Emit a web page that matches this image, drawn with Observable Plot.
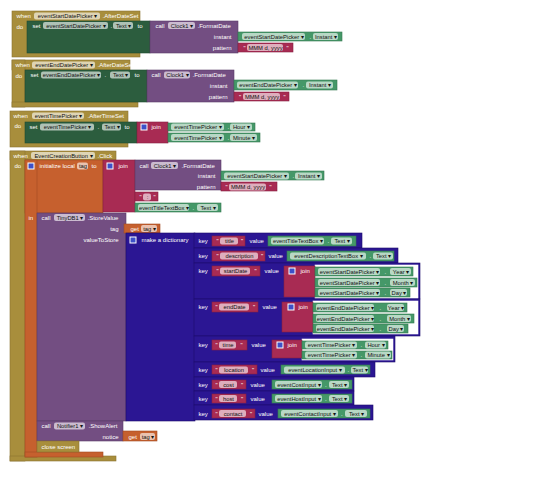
<!DOCTYPE html>
<html><head><meta charset="utf-8">
<script src="https://cdn.jsdelivr.net/npm/d3@7"></script>
<script src="https://cdn.jsdelivr.net/npm/@observablehq/plot@0.6"></script>
<style>body{margin:0;background:#fff}</style>
</head><body><div id="chart"></div>
<script>
// block rectangles: [kind, x1, y1, x2, y2]
const eventBlocks = [
  ["gold",12,11,140,57],["set",27,21,150,53],["call",150,21,238,53],["get",238,32,342,41],["text",238,43,293,52],
  ["gold",12,60,130,70],["gold",12,60,25,107],["gold",12,102,138,107],["set",25,70,147,102],["call",147,70,234,102],["get",234,80,337,90],["text",234,92,289,101],
  ["gold",10,111,128,147],["set",25,122,137,143],["text",137,122,168,143],["get",168,123,255,131],["get",168,133,260,142],
  ["gold",10,151,116,160],["gold",10,151,25,461],["gold",10,456,116,461],
  ["var",25,160,103,213],["var",25,160,37,457],["var",25,452,103,457],
  ["text",103,160,135,212],["call",135,160,221,190],["get",221,171,324,180],["text",221,182,277,191],["text",135,192,158,201],["get",135,203,221,212],
  ["call",37,213,126,421],["var",124,224,160,233],["dict",126,233,195,421],
  ["call",37,421,123,441],["var",123,431,157,441],["gold",37,441,79,452]
];
const pairBlocks = [
  ["dict",194,233,362,248],["dict",194,248,398,263],["dict",194,263,420,299],["dict",194,299,420,336],
  ["dict",194,336,395,362],["dict",194,362,375,377],["dict",194,377,354,391],["dict",194,391,354,405],["dict",194,405,373,420],
  ["white",315,265,418,298],["white",313,301,418,334],["white",302,339,393,360],
  ["text",212,236,245,246],["get",268,236,356,246],
  ["text",212,251,265,261],["get",287,251,394,261],
  ["text",212,266,260,276],["text",284,266,315,297],["get",315,267,413,276],["get",315,278,417,287],["get",315,288,410,297],
  ["text",212,302,258,312],["text",282,302,313,332],["get",313,303,407,312],["get",313,314,414,323],["get",313,324,408,333],
  ["text",212,340,247,350],["text",272,340,302,358],["get",302,341,388,349],["get",302,351,392,359],
  ["text",212,365,257,374],["get",281,365,370,374],
  ["text",212,380,246,389],["get",272,380,352,389],
  ["text",212,394,246,403],["get",272,394,352,403],
  ["text",212,409,255,418],["get",278,409,370,418]
];
// editable fields: [x1, y1, x2, y2, text]
const fieldList = [
  [34,12.5,100,19.5,"eventStartDatePicker ▾"],[43,22,108,29,"eventStartDatePicker ▾"],[113,22,133,29,"Text ▾"],[168,22,195,29,"Clock1 ▾"],
  [242,33,305,40,"eventStartDatePicker ▾"],[313,33,338,40,"Instant ▾"],[247,44,283,51,"MMM d, yyyy"],
  [32,61.5,95,68.5,"eventEndDatePicker ▾"],[41,71.5,101,78.5,"eventEndDatePicker ▾"],[110,71.5,130,78.5,"Text ▾"],[164,71.5,190,78.5,"Clock1 ▾"],
  [237,81.5,298,88.5,"eventEndDatePicker ▾"],[306,81.5,333,88.5,"Instant ▾"],[243,93,280,100,"MMM d, yyyy"],
  [32,112.5,84,119,"eventTimePicker ▾"],[40,123.5,94,130.5,"eventTimePicker ▾"],[102,123.5,121,130.5,"Text ▾"],
  [171,123.5,224,130.5,"eventTimePicker ▾"],[230,123.5,252,130.5,"Hour ▾"],[171,134,224,141,"eventTimePicker ▾"],[230,134,257,141,"Minute ▾"],
  [31,152,95,159,"EventCreationButton ▾"],[77,162.5,88,169.5,"tag"],[151,162,178,169,"Clock1 ▾"],
  [224,172.5,289,179.5,"eventStartDatePicker ▾"],[295,172.5,322,179.5,"Instant ▾"],[229,183.5,266,190.5,"MMM d, yyyy"],[143,193.5,151,200.5,":"],
  [138,204,189,211,"eventTitleTextBox ▾"],[197,204,218,211,"Text ▾"],[54,214,85,221,"TinyDB1 ▾"],[141,225,157,232,"tag ▾"],
  [220,237.5,238,244.5,"title"],[271,237.5,324,244.5,"eventTitleTextBox ▾"],[331,237.5,352,244.5,"Text ▾"],
  [220,252.5,258,259.5,"description"],[290,252.5,366,259.5,"eventDescriptionTextBox ▾"],[373,252.5,393,259.5,"Text ▾"],
  [220,267.5,250,274.5,"startDate"],[318,268,380,275,"eventStartDatePicker ▾"],[390,268,411,275,"Year ▾"],
  [318,279,380,286,"eventStartDatePicker ▾"],[390,279,415,286,"Month ▾"],[318,289,380,296,"eventStartDatePicker ▾"],[390,289,407,296,"Day ▾"],
  [219,303.5,249,310.5,"endDate"],[316,304,374,311,"eventEndDatePicker ▾"],[387,304,404,311,"Year ▾"],
  [316,315,374,322,"eventEndDatePicker ▾"],[387,315,411,322,"Month ▾"],[316,325,374,332,"eventEndDatePicker ▾"],[387,325,404,332,"Day ▾"],
  [219,341.5,236,348.5,"time"],[305,341.5,357,348.5,"eventTimePicker ▾"],[365,341.5,386,348.5,"Hour ▾"],
  [305,351.5,357,358.5,"eventTimePicker ▾"],[365,351.5,391,358.5,"Minute ▾"],
  [219,366.5,248,373.5,"location"],[284,366.5,345,373.5,"eventLocationInput ▾"],[351,366.5,368,373.5,"Text ▾"],
  [219,381,237,388,"cost"],[275,381,322,388,"eventCostInput ▾"],[329,381,349,388,"Text ▾"],
  [219,395,237,402,"host"],[275,395,322,402,"eventHostInput ▾"],[329,395,349,402,"Text ▾"],
  [219,410,246,417,"contact"],[281,410,338,417,"eventContactInput ▾"],[345,410,367,417,"Text ▾"],
  [54,422.5,85,429.5,"Notifier1 ▾"],[140,433,155,440,"tag ▾"]
];
// white labels, left-anchored: [x, y, text]
const leftLabels = [
  [16,16,"when"],[102,16,".AfterDateSet"],[16,27,"do"],[32,25.5,"set"],[110,25.5,"."],[137,25.5,"to"],[155,25.5,"call"],[197,25.5,".FormatDate"],
  [309,36.5,"."],[243,47.5,"\""],[286,47.5,"\""],
  [15,65,"when"],[97,65,".AfterDateSet"],[15,76,"do"],[30,75,"set"],[104,75,"."],[134,75,"to"],[151,75,"call"],[192,75,".FormatDate"],
  [302,85,"."],[238.5,96.5,"\""],[283,96.5,"\""],
  [13,115.5,"when"],[87,115.5,".AfterTimeSet"],[14,126,"do"],[29,127,"set"],[97,127,"."],[124,127,"to"],[151,127,"join"],[227,127,"."],[227,137.5,"."],
  [13,155.5,"when"],[97,155.5,".Click"],[14,166,"do"],[39,166,"initialize local"],[91,166,"to"],[118,166,"join"],
  [139,165.5,"call"],[181,165.5,".FormatDate"],[292,176,"."],[225,187,"\""],[269,187,"\""],[139,197,"\""],[153,197,"\""],[192,207.5,"."],
  [28,217.5,"in"],[41,217.5,"call"],[87,217.5,".StoreValue"],[130,228.5,"get"],[141,239.5,"make a dictionary"],
  [198,241,"key"],[216,241,"\""],[240.5,241,"\""],[249,241,"value"],[327,241,"."],
  [198,256,"key"],[216,256,"\""],[260.5,256,"\""],[268,256,"value"],[369,256,"."],
  [198,271,"key"],[216,271,"\""],[254,271,"\""],[264,271,"value"],[300,271,"join"],[384,271.5,"."],[384,282.5,"."],[384,292.5,"."],
  [198,307,"key"],[215,307,"\""],[252.5,307,"\""],[262,307,"value"],[298,307,"join"],[379,307.5,"."],[379,318.5,"."],[379,328.5,"."],
  [198,345,"key"],[215,345,"\""],[240,345,"\""],[251,345,"value"],[287,345,"join"],[360,345,"."],[360,355,"."],
  [198,370,"key"],[215,370,"\""],[251.5,370,"\""],[260,370,"value"],[347,370,"."],
  [198,384.5,"key"],[215,384.5,"\""],[240.5,384.5,"\""],[250,384.5,"value"],[324.5,384.5,"."],
  [198,398.5,"key"],[215,398.5,"\""],[240.5,398.5,"\""],[250,398.5,"value"],[324.5,398.5,"."],
  [198,413.5,"key"],[215,413.5,"\""],[249.5,413.5,"\""],[258,413.5,"value"],[340.5,413.5,"."],
  [41,426,"call"],[88,426,".ShowAlert"],[128,436.5,"get"],[41,447,"close screen"]
];
// white labels, right-anchored: [x, y, text]
const rightLabels = [
  [231,36.5,"instant"],[231,47.5,"pattern"],[227,85.5,"instant"],[227,96.5,"pattern"],
  [215,176,"instant"],[215,187,"pattern"],[118,228.5,"tag"],[118,239.5,"valueToStore"],[118,436.5,"notice"]
];
// mutator icons: [x, y]
const gears = [[141,124],[28,163],[107,163],[130,237],[289,268],[288,304],[277,342]];

const palette = {gold:"#A88E3C", set:"#2C5D3E", get:"#459868", call:"#734E82", text:"#A82B53", var:"#C6602E", dict:"#2B1693", white:"#FFFFFF"};
const edgeCol = {gold:"#8a7430", set:"#214a30", get:"#367a52", call:"#5b3d68", text:"#861f41", var:"#a24c22", dict:"#1c0d6b", white:"#FFFFFF"};

const toRect = ([kind,x1,y1,x2,y2]) => ({kind,x1,y1,x2,y2});
const blocks = eventBlocks.map(toRect).concat(pairBlocks.map(toRect));
const fields = fieldList.map(([x1,y1,x2,y2,t]) => ({x1,y1,x2,y2,t,cx:(x1+x2)/2,cy:(y1+y2)/2}));
const toLab = ([x,y,t]) => ({x,y,t});
const icons = gears.map(([x,y]) => ({x1:x,y1:y,x2:x+6,y2:y+6}));

const chart = Plot.plot({
  width: 538, height: 500, margin: 0,
  style: {fontFamily: "'Liberation Sans', Arial, sans-serif", background: "#fff"},
  x: {domain: [0, 538], range: [0, 538], axis: null},
  y: {domain: [0, 500], range: [0, 500], axis: null},
  color: {type: "identity"},
  marks: [
    Plot.rect(blocks, {x1:"x1", y1:"y1", x2:"x2", y2:"y2", fill: d => palette[d.kind], stroke: d => edgeCol[d.kind], strokeWidth: 0.6, insetLeft:0, insetRight:0}),
    Plot.rect(fields, {x1:"x1", y1:"y1", x2:"x2", y2:"y2", fill:"#fff", fillOpacity:0.62, rx:2}),
    Plot.rect(icons, {x1:"x1", y1:"y1", x2:"x2", y2:"y2", fill:"#3d50c8", stroke:"#fff", strokeWidth:1}),
    Plot.text(fields, {x:"cx", y:"cy", text:"t", fill:"#111", fontSize:5.8}),
    Plot.text(leftLabels.map(toLab), {x:"x", y:"y", text:"t", fill:"#fff", fontSize:6, textAnchor:"start"}),
    Plot.text(rightLabels.map(toLab), {x:"x", y:"y", text:"t", fill:"#fff", fontSize:6, textAnchor:"end"})
  ]
});
document.getElementById("chart").append(chart);
</script></body></html>
